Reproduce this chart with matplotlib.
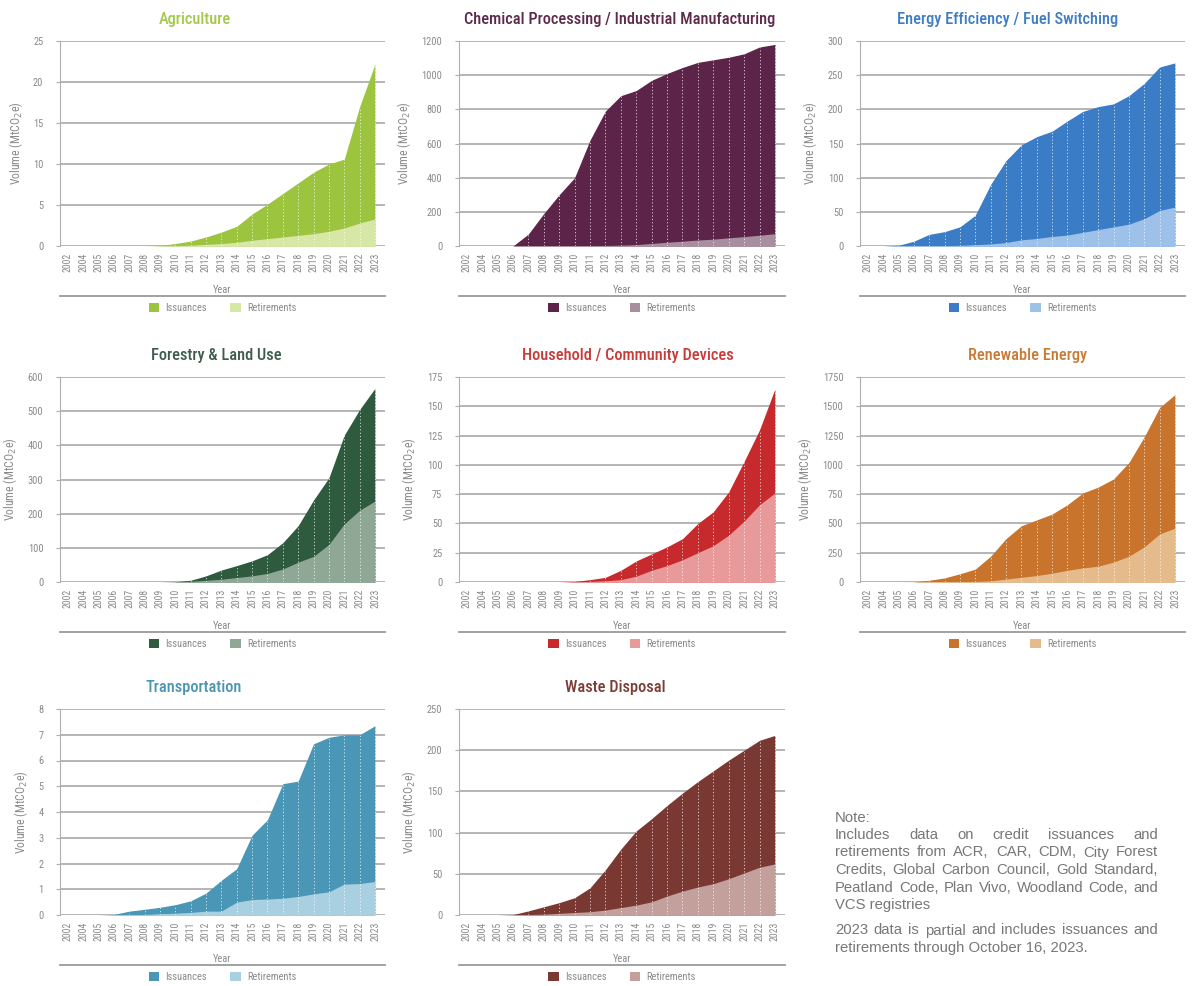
import matplotlib
matplotlib.use('Agg')
import matplotlib.pyplot as plt
from matplotlib import font_manager as fm
from matplotlib.lines import Line2D
from matplotlib.patches import Patch
import numpy as np

# ---------------- data ----------------
years = ['2002', '2004', '2005', '2006', '2007', '2008', '2009', '2010', '2011', '2012',
         '2013', '2014', '2015', '2016', '2017', '2018', '2019', '2020', '2021', '2022', '2023']

agri_iss = [0, 0, 0, 0, 0, 0, 0.05, 0.3, 0.6, 1.1, 1.7, 2.4, 3.9, 5.1, 6.4, 7.7, 9.0, 10.0, 10.6, 17.0, 22.2]
agri_ret = [0, 0, 0, 0, 0, 0, 0, 0.05, 0.1, 0.2, 0.3, 0.45, 0.7, 0.9, 1.1, 1.3, 1.5, 1.8, 2.2, 2.8, 3.3]

chem_iss = [0, 0, 0, 0, 70, 190, 300, 400, 620, 790, 880, 910, 970, 1010, 1045, 1075, 1090, 1105, 1125, 1165, 1180]
chem_ret = [0, 0, 0, 0, 0, 0, 0, 0, 1, 3, 5, 8, 15, 22, 28, 35, 40, 48, 55, 63, 72]

ener_iss = [0, 0, 1, 7, 17, 21, 28, 45, 90, 125, 148, 160, 168, 183, 197, 204, 208, 220, 238, 262, 268]
ener_ret = [0, 0, 0, 0, 0, 0.5, 1, 2, 3, 5, 9, 11, 14, 16, 20, 24, 28, 32, 40, 52, 57]

fore_iss = [0, 0, 0, 0, 0, 0, 0, 1, 5, 18, 35, 48, 62, 80, 115, 165, 240, 305, 430, 505, 567]
fore_ret = [0, 0, 0, 0, 0, 0, 0, 0, 2, 5, 8, 13, 18, 25, 38, 58, 75, 110, 170, 210, 237]

hous_iss = [0, 0, 0, 0, 0, 0, 0, 0.5, 2, 4, 10, 18, 24, 30, 37, 50, 60, 77, 103, 130, 165]
hous_ret = [0, 0, 0, 0, 0, 0, 0, 0, 0.5, 1, 2, 5, 10, 14, 19, 25, 31, 40, 52, 66, 76]

rene_iss = [0, 0, 0, 1, 15, 35, 70, 110, 220, 370, 480, 530, 580, 660, 760, 810, 880, 1020, 1240, 1490, 1600]
rene_ret = [0, 0, 0, 0, 0, 1, 3, 5, 10, 25, 40, 55, 75, 100, 120, 135, 170, 220, 300, 410, 460]

tran_iss = [0, 0, 0, 0.02, 0.15, 0.22, 0.3, 0.4, 0.55, 0.85, 1.35, 1.8, 3.1, 3.7, 5.1, 5.2, 6.65, 6.9, 7.0, 7.0, 7.35]
tran_ret = [0, 0, 0, 0, 0, 0.02, 0.05, 0.07, 0.1, 0.15, 0.15, 0.5, 0.6, 0.62, 0.65, 0.72, 0.82, 0.9, 1.2, 1.22, 1.3]

wast_iss = [0, 0, 0, 0.5, 5, 10, 15, 21, 33, 55, 80, 102, 117, 133, 148, 162, 175, 188, 200, 212, 218]
wast_ret = [0, 0, 0, 0, 0.5, 1, 2, 3, 4, 6, 9, 12, 16, 23, 29, 34, 38, 44, 51, 58, 62]

titles = ['Agriculture', 'Chemical Processing / Industrial Manufacturing',
          'Energy Efficiency / Fuel Switching', 'Forestry & Land Use',
          'Household / Community Devices', 'Renewable Energy',
          'Transportation', 'Waste Disposal']
issuances = [agri_iss, chem_iss, ener_iss, fore_iss, hous_iss, rene_iss, tran_iss, wast_iss]
retirements = [agri_ret, chem_ret, ener_ret, fore_ret, hous_ret, rene_ret, tran_ret, wast_ret]
ymaxes = [25, 1200, 300, 600, 175, 1750, 8, 250]
ysteps = [5, 200, 50, 100, 25, 250, 1, 50]

iss_colors = ['#9cc43f', '#5c2448', '#3a7cc6', '#2e5a3e', '#c62a2c', '#c8742c', '#4a96b6', '#7a3833']
ret_colors = ['#d6e7a6', '#a88f9f', '#9dc1e9', '#8ea895', '#e89a9a', '#e6bb8c', '#a8d0e1', '#c3a09b']
title_colors = ['#a4c94c', '#5e2a4c', '#3f7dc4', '#3e5c4c', '#c93a3a', '#c97b36', '#4b95b4', '#7b3d37']
# horizontal centre of each title, in figure pixels
title_centres = [195, 620, 1008, 216, 628, 1028, 194, 615]

note_head = 'Note:'
note_lines = ['Includes data on credit issuances and',
              'retirements from ACR, CAR, CDM, City Forest',
              'Credits, Global Carbon Council, Gold Standard,',
              'Peatland Code, Plan Vivo, Woodland Code, and',
              'VCS registries']
note2_lines = ['2023 data is partial and includes issuances and',
               'retirements through October 16, 2023.']

# ---------------- fonts ----------------
def pick_condensed():
    names = {f.name for f in fm.fontManager.ttflist}
    for n in ['Liberation Sans Narrow', 'Roboto Condensed', 'Open Sans Condensed', 'Noto Sans Condensed']:
        if n in names:
            return n, 'normal', True
    for f in fm.fontManager.ttflist:
        if f.name == 'DejaVu Sans' and str(f.stretch) in ('condensed', 'semi-condensed'):
            return 'DejaVu Sans', 'condensed', True
    return 'DejaVu Sans', 'normal', False

CF, CSTRETCH, HAS_COND = pick_condensed()
scale = 1.0 if HAS_COND else 0.85

def cfont(size, weight='normal'):
    return fm.FontProperties(family=CF, stretch=CSTRETCH, size=size * scale, weight=weight)

gray = '#8a8a8a'
W, H = 1192, 986
fig = plt.figure(figsize=(W / 100, H / 100), dpi=100)
fig.patch.set_facecolor('white')

cols = [(60, 385), (459, 785), (860, 1185)]
rows = [(41, 246), (377, 582), (709, 915)]

x = np.arange(len(years))
for i in range(8):
    r, c = divmod(i, 3)
    x0, x1 = cols[c]
    y0, y1 = rows[r]
    ax = fig.add_axes([x0 / W, 1 - y1 / H, (x1 - x0) / W, (y1 - y0) / H])
    iss = np.array(issuances[i], dtype=float)
    ret = np.array(retirements[i], dtype=float)
    ax.fill_between(x, 0, iss, color=iss_colors[i], lw=0, zorder=2)
    ax.fill_between(x, 0, ret, color=ret_colors[i], lw=0, zorder=3)
    ax.vlines(x, 0, iss, colors='white', linestyles=(0, (1.2, 2.2)), lw=0.7, alpha=0.75, zorder=4)
    ax.set_xlim(-0.5, len(years) - 0.35)
    ax.set_ylim(0, ymaxes[i])
    ax.set_yticks(np.arange(0, ymaxes[i] + ysteps[i] / 2, ysteps[i]))
    ax.set_xticks(x)
    ax.set_xticklabels(years, rotation=90)
    ax.grid(axis='y', color='#a8a8a8', lw=1.2, zorder=0)
    ax.set_axisbelow(True)
    for s in ['top', 'right', 'bottom']:
        ax.spines[s].set_visible(False)
    ax.spines['left'].set_color('#b0b0b0')
    ax.spines['left'].set_linewidth(0.8)
    ax.tick_params(axis='y', length=3, color='#b0b0b0', pad=9, labelcolor=gray)
    ax.tick_params(axis='x', length=0, pad=5, labelcolor=gray)
    for lab in ax.get_xticklabels():
        lab.set_fontproperties(cfont(7))
    for lab in ax.get_yticklabels():
        lab.set_fontproperties(cfont(7.5))
    ax.set_ylabel('Volume (MtCO$_2$e)', fontproperties=cfont(8.5), color=gray, labelpad=6)
    tx = (title_centres[i] - x0) / (x1 - x0)
    ax.set_title(titles[i], fontproperties=cfont(11.8, 'medium'), color=title_colors[i],
                 pad=12, x=tx)
    hpx = y1 - y0
    ax.text(0.5, -44 / hpx, 'Year', transform=ax.transAxes, ha='center', va='center',
            fontproperties=cfont(7.5), color=gray)
    ax.add_line(Line2D([0, 1], [-50 / hpx, -50 / hpx], transform=ax.transAxes,
                       color='#9a9a9a', lw=1.3, clip_on=False))
    handles = [Patch(facecolor=iss_colors[i], edgecolor='none', label='Issuances'),
               Patch(facecolor=ret_colors[i], edgecolor='none', label='Retirements')]
    ax.legend(handles=handles, loc='center', bbox_to_anchor=(0.5, -62 / hpx), ncol=2,
              frameon=False, prop=cfont(7.5), labelcolor=gray, handlelength=1.0,
              handleheight=1.0, columnspacing=2.2, handletextpad=0.6)

# ---------------- note ----------------
renderer = fig.canvas.get_renderer()
nx0, nx1 = 835, 1158
probe = fig.text(0, 0, note2_lines[0], family='Liberation Sans', size=10)
pw = probe.get_window_extent(renderer).width
probe.remove()
nsize = 10 * (nx1 - nx0) / pw * 0.97
nfont = dict(family='Liberation Sans', size=nsize, color='#777777')

def draw_line(text, ycen, justify):
    yb = 1 - (ycen + 4.5) / H
    if not justify:
        fig.text(nx0 / W, yb, text, va='baseline', ha='left', **nfont)
        return
    words = text.split()
    ts = [fig.text(0, yb, w, va='baseline', ha='left', **nfont) for w in words]
    widths = [t.get_window_extent(renderer).width for t in ts]
    gap = ((nx1 - nx0) - sum(widths)) / (len(words) - 1)
    xp = nx0
    for t, w in zip(ts, widths):
        t.set_x(xp / W)
        xp += w + gap

draw_line(note_head, 817, False)
ys = [834.5, 852, 869.5, 887, 904.5]
for k, (ln, yc) in enumerate(zip(note_lines, ys)):
    draw_line(ln, yc, k < len(note_lines) - 1)
ys2 = [930, 947.5]
for k, (ln, yc) in enumerate(zip(note2_lines, ys2)):
    draw_line(ln, yc, k < len(note2_lines) - 1)

fig.savefig('out.png', dpi=100, facecolor='white')
